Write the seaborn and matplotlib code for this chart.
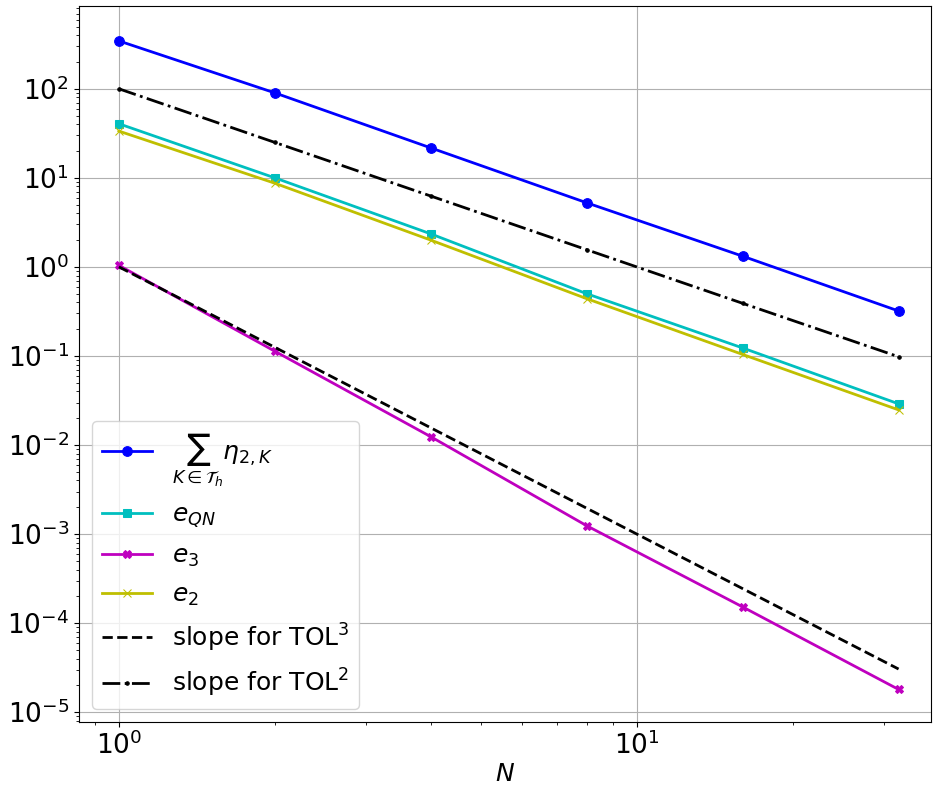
import matplotlib
matplotlib.use("Agg")
import matplotlib.pyplot as plt
import numpy as np
import pandas as pd
import seaborn as sns

# values
N = [1, 2, 4, 8, 16, 32]
eta_sum = [345, 90, 21.7, 5.25, 1.32, 0.32]
e_qn = [40.5, 10.0, 2.35, 0.50, 0.123, 0.029]
e_3 = [1.04, 0.113, 0.0124, 0.00124, 1.52e-4, 1.8e-5]
e_2 = [33.5, 8.7, 2.0, 0.44, 0.104, 0.0248]
slope_tol3 = [1.0, 0.125, 0.0156, 0.00195, 2.44e-4, 3.05e-5]
slope_tol2 = [100, 25, 6.25, 1.56, 0.39, 0.098]

SERIES = [
    (eta_sum, r"$\sum_{K\in\mathcal{T}_h}\eta_{2,K}$", "b", "o", "-", 7),
    (e_qn, r"$e_{QN}$", "c", "s", "-", 6),
    (e_3, r"$e_3$", "m", "X", "-", 6),
    (e_2, r"$e_2$", "y", "x", "-", 6),
    (slope_tol3, r"slope for TOL$^3$", "k", None, "--", 0),
    (slope_tol2, r"slope for TOL$^2$", "k", ".", "-.", 5),
]


def main():
    fig = plt.figure(figsize=(9.33, 7.88), dpi=100)
    ax = fig.add_axes([0.0847, 0.0838, 0.9133, 0.9086])

    for values, label, color, marker, ls, ms in SERIES:
        df = pd.DataFrame({"N": N, "val": values})
        kws = dict(marker=marker, markersize=ms, markeredgecolor=color) if marker else {}
        sns.lineplot(data=df, x="N", y="val", ax=ax, color=color, linestyle=ls,
                     linewidth=2, label=label, **kws)

    ax.set_xscale("log")
    ax.set_yscale("log")
    ax.set_xlim(10 ** -0.077, 10 ** 1.568)
    ax.set_ylim(10 ** -5.11, 10 ** 2.93)
    ax.grid(True, which="major", color="#b0b0b0", linewidth=0.8)
    ax.tick_params(axis="both", which="major", labelsize=19)
    ax.set_xlabel(r"$N$", fontsize=18, labelpad=1)
    ax.set_ylabel("")
    ax.legend(loc="lower left", fontsize=18, handlelength=2.0, labelspacing=0.55)

    fig.savefig("out.png", dpi=100)
    plt.close(fig)


if __name__ == "__main__":
    main()
